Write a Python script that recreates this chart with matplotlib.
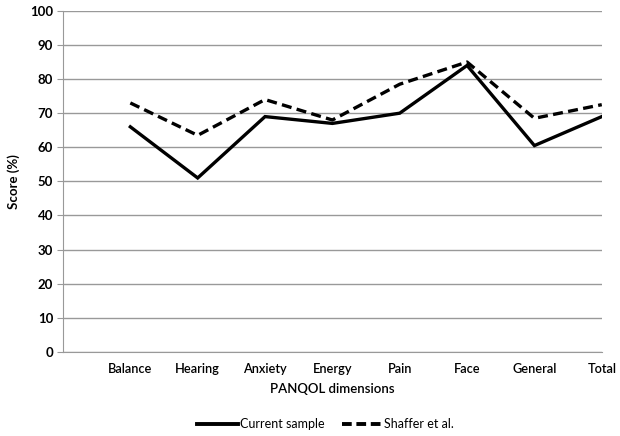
import matplotlib.pyplot as plt
from matplotlib.lines import Line2D

dimensions = ["Balance", "Hearing", "Anxiety", "Energy", "Pain", "Face", "General", "Total"]
current_sample = [66, 51, 69, 67, 70, 84, 60.5, 69]
shaffer = [73, 63.5, 74, 68, 78.5, 85, 68.5, 72.5]

plt.rcParams["font.family"] = ["Lato", "DejaVu Sans"]

fig = plt.figure(figsize=(6.2, 4.36), dpi=100)
ax = fig.add_axes([0.1016, 0.193, 0.869, 0.782])

x = list(range(1, len(dimensions) + 1))
ax.plot(x, current_sample, color="black", lw=2.4, label="Current sample",
        solid_joinstyle="miter")
ax.plot(x, shaffer, color="black", lw=2.4, ls=(0, (3, 1.6)), label="Shaffer et al.")

ax.set_xlim(0, len(dimensions))
ax.set_ylim(0, 100)
ax.set_yticks(range(0, 101, 10))
ax.set_xticks(x)
ax.set_xticklabels(dimensions, fontsize=9.2, fontweight="semibold")
ax.tick_params(axis="x", length=0, pad=8)
ax.tick_params(axis="y", length=4, color="#999999", labelsize=9.5, pad=3)
for lbl in ax.get_yticklabels():
    lbl.set_fontweight("bold")

ax.grid(axis="y", color="#999999", lw=1)
ax.set_axisbelow(True)
for side in ["top", "right"]:
    ax.spines[side].set_visible(False)
ax.spines["left"].set_color("#999999")
ax.spines["bottom"].set_color("#999999")

ax.set_ylabel("Score (%)", fontsize=9.5, fontweight="bold", labelpad=7)
ax.set_xlabel("PANQOL dimensions", fontsize=9.5, fontweight="semibold", labelpad=6)

handles = [
    Line2D([], [], color="black", lw=2.8),
    Line2D([], [], color="black", lw=2.8, ls=(0, (2.5, 1.2))),
]
fig.legend(handles, ["Current sample", "Shaffer et al."], loc="center",
           bbox_to_anchor=(0.525, 0.027), ncol=2, frameon=False, fontsize=9,
           handlelength=3.3, handletextpad=0.1, columnspacing=1.4)

fig.savefig("out.png", dpi=100)
